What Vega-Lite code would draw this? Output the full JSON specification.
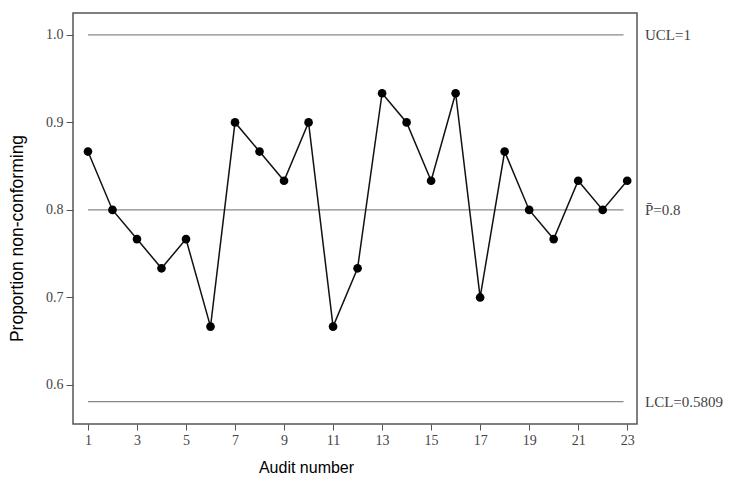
{
  "$schema": "https://vega.github.io/schema/vega-lite/v6.json",
  "autosize": {"type": "none"},
  "padding": {"left": 73, "top": 13, "right": 95, "bottom": 57},
  "width": 564,
  "height": 411,
  "background": "white",
  "config": {
    "view": {"stroke": "#555555", "strokeWidth": 1.5},
    "axis": {"grid": false, "domain": false, "tickColor": "#555555", "labelFont": "Liberation Serif", "labelFontSize": 14, "labelColor": "#444444", "titleFont": "Liberation Sans", "titleFontWeight": "normal", "titleColor": "#000000"}
  },
  "datasets": {
    "audits": [
      {"audit": 1, "p": 0.8667},
      {"audit": 2, "p": 0.8},
      {"audit": 3, "p": 0.7667},
      {"audit": 4, "p": 0.7333},
      {"audit": 5, "p": 0.7667},
      {"audit": 6, "p": 0.6667},
      {"audit": 7, "p": 0.9},
      {"audit": 8, "p": 0.8667},
      {"audit": 9, "p": 0.8333},
      {"audit": 10, "p": 0.9},
      {"audit": 11, "p": 0.6667},
      {"audit": 12, "p": 0.7333},
      {"audit": 13, "p": 0.9333},
      {"audit": 14, "p": 0.9},
      {"audit": 15, "p": 0.8333},
      {"audit": 16, "p": 0.9333},
      {"audit": 17, "p": 0.7},
      {"audit": 18, "p": 0.8667},
      {"audit": 19, "p": 0.8},
      {"audit": 20, "p": 0.7667},
      {"audit": 21, "p": 0.8333},
      {"audit": 22, "p": 0.8},
      {"audit": 23, "p": 0.8333}
    ],
    "limits": [
      {"start": 1, "end": 22.85, "value": 1.0, "label": "UCL=1"},
      {"start": 1, "end": 22.85, "value": 0.8, "label": "P\u0304=0.8"},
      {"start": 1, "end": 22.85, "value": 0.5809, "label": "LCL=0.5809"}
    ]
  },
  "layer": [
    {
      "data": {"name": "limits"},
      "mark": {"type": "rule", "color": "#888888", "strokeWidth": 1.3},
      "encoding": {
        "x": {"field": "start", "type": "quantitative", "scale": {"domain": [0.39, 23.4], "nice": false, "zero": false},
          "axis": {"values": [1,3,5,7,9,11,13,15,17,19,21,23], "tickSize": 6, "labelPadding": 3, "title": "Audit number", "titleFontSize": 16, "titleX": 233, "titleY": 43, "titleBaseline": "middle", "titleAnchor": "middle"}},
        "x2": {"field": "end"},
        "y": {"field": "value", "type": "quantitative", "scale": {"domain": [0.5554, 1.025], "nice": false, "zero": false},
          "axis": {"values": [0.6, 0.7, 0.8, 0.9, 1.0], "format": ".1f", "tickSize": 7, "labelPadding": 3, "title": "Proportion non-conforming", "titleFontSize": 17.5, "titleX": -56, "titleY": 225, "titleBaseline": "middle", "titleAngle": -90}}
      }
    },
    {
      "data": {"name": "limits"},
      "mark": {"type": "text", "align": "left", "baseline": "middle", "dx": 8, "font": "Liberation Serif", "fontSize": 15, "color": "#444444"},
      "encoding": {
        "x": {"value": "width"},
        "y": {"field": "value", "type": "quantitative"},
        "text": {"field": "label"}
      }
    },
    {
      "data": {"name": "audits"},
      "mark": {"type": "line", "color": "#111111", "strokeWidth": 1.5},
      "encoding": {
        "x": {"field": "audit", "type": "quantitative"},
        "y": {"field": "p", "type": "quantitative"}
      }
    },
    {
      "data": {"name": "audits"},
      "mark": {"type": "point", "filled": true, "shape": "circle", "size": 75, "color": "#000000", "opacity": 1},
      "encoding": {
        "x": {"field": "audit", "type": "quantitative"},
        "y": {"field": "p", "type": "quantitative"}
      }
    }
  ]
}
